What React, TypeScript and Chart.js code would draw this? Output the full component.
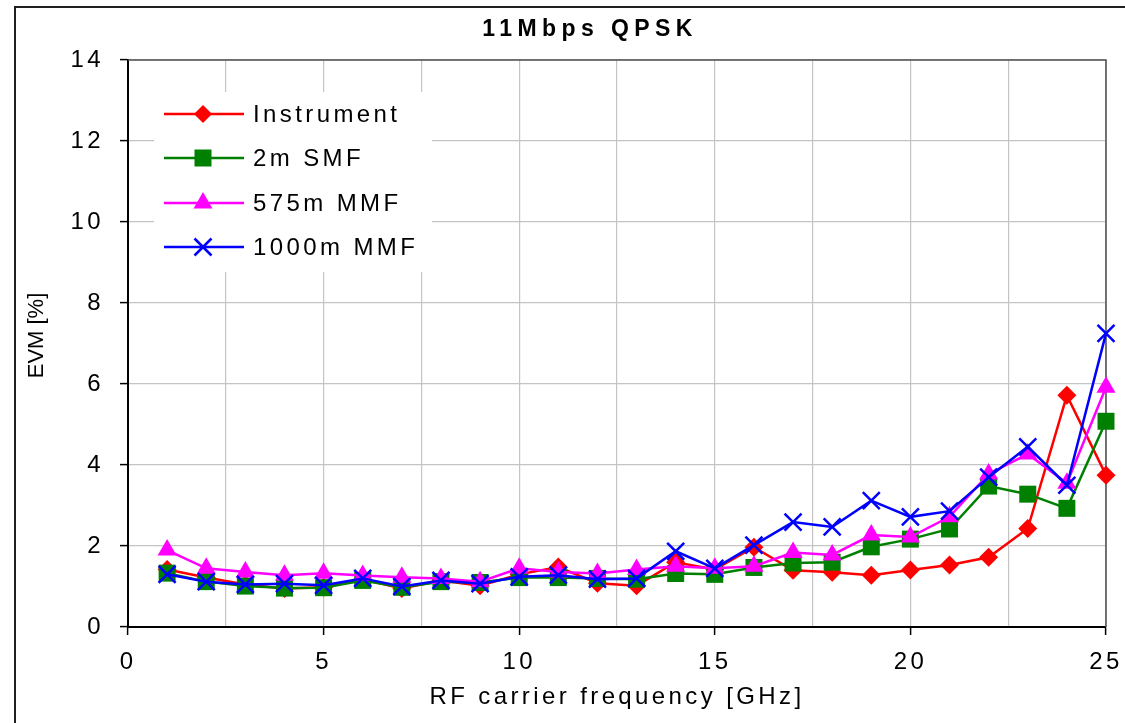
import React, { useEffect, useRef } from 'react';
import { Chart, registerables } from 'chart.js';

Chart.register(...registerables);

const FREQUENCIES_GHZ = [1, 2, 3, 4, 5, 6, 7, 8, 9, 10, 11, 12, 13, 14, 15, 16, 17, 18, 19, 20, 21, 22, 23, 24, 25];
const INSTRUMENT = [1.42, 1.22, 1.05, 0.95, 0.98, 1.18, 0.95, 1.15, 1.02, 1.3, 1.48, 1.08, 1.02, 1.6, 1.42, 1.97, 1.4, 1.35, 1.28, 1.41, 1.53, 1.72, 2.43, 5.72, 3.75];
const SMF_2M = [1.33, 1.12, 1.01, 0.96, 0.97, 1.15, 0.98, 1.12, 1.1, 1.22, 1.22, 1.2, 1.18, 1.32, 1.3, 1.47, 1.58, 1.6, 1.98, 2.17, 2.42, 3.48, 3.28, 2.93, 5.08];
const MMF_575M = [1.9, 1.45, 1.36, 1.28, 1.33, 1.27, 1.23, 1.2, 1.12, 1.45, 1.36, 1.32, 1.42, 1.5, 1.45, 1.5, 1.84, 1.78, 2.27, 2.22, 2.72, 3.78, 4.27, 3.55, 5.92];
const MMF_1000M = [1.3, 1.12, 1.05, 1.07, 1.03, 1.2, 1.0, 1.15, 1.07, 1.24, 1.28, 1.18, 1.2, 1.87, 1.45, 2.02, 2.59, 2.47, 3.12, 2.72, 2.86, 3.7, 4.45, 3.5, 7.25];
const SERIES_LABELS = ['Instrument', '2m SMF', '575m MMF', '1000m MMF'];
const X_TICK_LABELS = ['0', '5', '10', '15', '20', '25'];
const TITLE = '11Mbps QPSK';
const X_TITLE = 'RF carrier frequency [GHz]';
const Y_TITLE = 'EVM [%]';

const FONT = "'Liberation Sans', Arial, sans-serif";
const COLORS = ['#ff0000', '#008000', '#ff00ff', '#0000ff'];
const STYLES = ['rectRot', 'rect', 'triangle', 'crossRot'];
const RADII = [9.5, 12, 11, 12];

function drawMarker(ctx: CanvasRenderingContext2D, style: string, x: number, y: number, color: string) {
  ctx.save();
  ctx.fillStyle = color;
  ctx.strokeStyle = color;
  ctx.lineWidth = 2.5;
  ctx.beginPath();
  if (style === 'rectRot') {
    ctx.moveTo(x, y - 9);
    ctx.lineTo(x + 9, y);
    ctx.lineTo(x, y + 9);
    ctx.lineTo(x - 9, y);
    ctx.closePath();
    ctx.fill();
  } else if (style === 'rect') {
    ctx.rect(x - 8.5, y - 8.5, 17, 17);
    ctx.fill();
  } else if (style === 'triangle') {
    ctx.moveTo(x, y - 11);
    ctx.lineTo(x + 9.5, y + 5.5);
    ctx.lineTo(x - 9.5, y + 5.5);
    ctx.closePath();
    ctx.fill();
  } else {
    ctx.moveTo(x - 8.5, y - 8.5);
    ctx.lineTo(x + 8.5, y + 8.5);
    ctx.moveTo(x + 8.5, y - 8.5);
    ctx.lineTo(x - 8.5, y + 8.5);
    ctx.stroke();
  }
  ctx.restore();
}

const spacingPlugin = {
  id: 'spacing',
  beforeLayout(chart: any) {
    chart.ctx.letterSpacing = '3.4px';
  },
  beforeDraw(chart: any) {
    const ctx = chart.ctx as CanvasRenderingContext2D;
    (ctx as any).letterSpacing = '3.4px';
    const ys = chart.scales.y;
    if (ys && !ys.__patched) {
      const orig = ys.drawTitle.bind(ys);
      ys.drawTitle = function () {
        ctx.save();
        (ctx as any).letterSpacing = '0px';
        ctx.translate(0, -8);
        orig();
        ctx.restore();
      };
      ys.__patched = true;
    }
    ctx.save();
    ctx.fillStyle = '#ffffff';
    ctx.fillRect(0, 0, chart.width, chart.height);
    ctx.strokeStyle = '#202020';
    ctx.lineWidth = 2;
    ctx.beginPath();
    ctx.moveTo(15, chart.height);
    ctx.lineTo(15, 7);
    ctx.lineTo(chart.width, 7);
    ctx.stroke();
    (ctx as any).letterSpacing = '5.4px';
    ctx.fillStyle = '#000';
    ctx.font = `bold 23px ${FONT}`;
    ctx.textAlign = 'center';
    ctx.textBaseline = 'middle';
    ctx.fillText(TITLE, 590, 30);
    ctx.restore();
  },
  beforeDatasetsDraw(chart: any) {
    const ctx = chart.ctx as CanvasRenderingContext2D;
    const a = chart.chartArea;
    ctx.save();
    ctx.strokeStyle = '#505050';
    ctx.lineWidth = 1.5;
    ctx.beginPath();
    ctx.moveTo(a.left, a.top);
    ctx.lineTo(a.right, a.top);
    ctx.lineTo(a.right, a.bottom);
    ctx.stroke();
    ctx.restore();
  },
  afterDatasetsDraw(chart: any) {
    const ctx = chart.ctx as CanvasRenderingContext2D;
    ctx.save();
    ctx.fillStyle = '#ffffff';
    ctx.fillRect(154, 92, 278, 180);
    const rows = [114, 158, 203, 247];
    SERIES_LABELS.forEach((label, i) => {
      const y = rows[i];
      ctx.strokeStyle = COLORS[i];
      ctx.lineWidth = 2.5;
      ctx.beginPath();
      ctx.moveTo(164, y);
      ctx.lineTo(244, y);
      ctx.stroke();
      drawMarker(ctx, STYLES[i], 203, y, COLORS[i]);
      (ctx as any).letterSpacing = '3.4px';
      ctx.fillStyle = '#000';
      ctx.font = `24px ${FONT}`;
      ctx.textAlign = 'left';
      ctx.textBaseline = 'middle';
      ctx.fillText(label, 253, y + 1);
    });
    ctx.restore();
  },
};

export default function App() {
  const canvasRef = useRef<HTMLCanvasElement | null>(null);

  useEffect(() => {
    if (!canvasRef.current) return;
    const seriesValues = [INSTRUMENT, SMF_2M, MMF_575M, MMF_1000M];
    const datasets = seriesValues.map((vals, i) => ({
      label: SERIES_LABELS[i],
      data: FREQUENCIES_GHZ.map((f, j) => ({ x: f, y: vals[j] })),
      borderColor: COLORS[i],
      backgroundColor: COLORS[i],
      pointBackgroundColor: COLORS[i],
      pointBorderColor: COLORS[i],
      pointStyle: STYLES[i],
      pointRadius: RADII[i],
      pointBorderWidth: i === 3 ? 2.5 : 0,
      borderWidth: 2.5,
      tension: 0,
      clip: false,
      order: 4 - i,
    }));

    const chart = new Chart(canvasRef.current, {
      type: 'line',
      data: { datasets: datasets as any },
      plugins: [spacingPlugin as any],
      options: {
        responsive: false,
        animation: false,
        devicePixelRatio: 1,
        layout: { padding: { top: 60, right: 19, left: 0, bottom: 0 } },
        plugins: {
          legend: { display: false },
          title: { display: false },
          tooltip: { enabled: false },
        },
        scales: {
          x: {
            type: 'linear',
            min: 0,
            max: 25,
            afterFit: (s: any) => { s.height = 96; s.paddingRight = 0; s.paddingLeft = 0; },
            ticks: {
              stepSize: 2.5,
              autoSkip: false,
              maxRotation: 0,
              padding: 13,
              color: '#000',
              font: { family: FONT, size: 24 },
              callback: (v: any) => {
                const s = String(v);
                return X_TICK_LABELS.includes(s) ? s : '';
              },
            },
            grid: {
              color: (c: any) => (c.tick && c.tick.value === 0 ? 'rgba(0,0,0,0)' : '#c4c4c4'),
              lineWidth: 1.2,
              tickColor: (c: any) => (c.tick && c.tick.value % 5 === 0 ? '#000' : 'rgba(0,0,0,0)'),
              tickLength: 8,
              tickWidth: 1.5,
            },
            border: { display: true, color: '#000', width: 2 },
            title: {
              display: true,
              text: X_TITLE,
              color: '#000',
              font: { family: FONT, size: 24 },
              padding: { top: 0, bottom: 11.6 },
            },
          },
          y: {
            type: 'linear',
            min: 0,
            max: 14,
            afterFit: (s: any) => { s.width = 128; s.paddingTop = 0; s.paddingBottom = 0; },
            ticks: {
              stepSize: 2,
              padding: 16,
              color: '#000',
              font: { family: FONT, size: 24 },
            },
            grid: {
              color: (c: any) => (c.tick && c.tick.value === 0 ? 'rgba(0,0,0,0)' : '#c4c4c4'),
              lineWidth: 1.2,
              tickColor: '#000',
              tickLength: 8,
              tickWidth: 1.5,
            },
            border: { display: true, color: '#000', width: 2 },
            title: {
              display: true,
              text: Y_TITLE,
              color: '#000',
              font: { family: FONT, size: 22 },
              padding: { top: 23.8, bottom: 0 },
            },
          },
        },
      } as any,
    });
    return () => chart.destroy();
  }, []);

  return (
    <div style={{ position: 'absolute', left: 0, top: 0, width: 1125, height: 723, background: '#fff' }}>
      <canvas ref={canvasRef} width={1125} height={723} style={{ display: 'block' }} />
    </div>
  );
}
